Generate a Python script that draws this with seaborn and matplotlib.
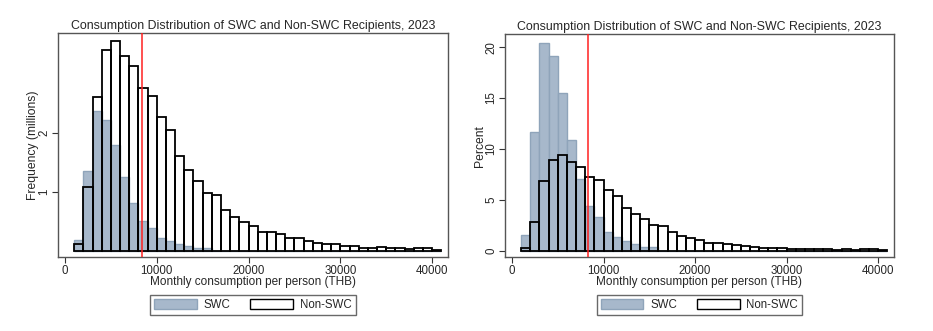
import numpy as np
import pandas as pd
import matplotlib
matplotlib.use("Agg")
import matplotlib.pyplot as plt
from matplotlib.patches import Patch
import seaborn as sns

# ---- data (bins of 1000 THB, starting at 1000) ----
bin_start = list(range(1000, 41000, 1000))

swc_freq_m = [0.18, 1.36, 2.375, 2.22, 1.80, 1.26, 0.81, 0.51, 0.39, 0.215,
              0.16, 0.11, 0.075, 0.045, 0.04]
non_freq_m = [0.12, 1.085, 2.62, 3.41, 3.57, 3.32, 3.14, 2.77, 2.64, 2.28,
              2.05, 1.61, 1.375, 1.19, 0.99, 0.955, 0.70, 0.57, 0.49, 0.415,
              0.32, 0.32, 0.28, 0.215, 0.21, 0.17, 0.13, 0.11, 0.11, 0.085,
              0.083, 0.055, 0.055, 0.057, 0.04, 0.05, 0.035, 0.047, 0.047, 0.018]

swc_pct = [1.54, 11.7, 20.45, 19.15, 15.5, 10.83, 7.0, 4.35, 3.34, 1.8,
           1.34, 0.95, 0.62, 0.36, 0.33]
non_pct = [0.30, 2.8, 6.84, 8.9, 9.36, 8.7, 8.18, 7.27, 6.9, 6.0,
           5.34, 4.19, 3.57, 3.08, 2.55, 2.45, 1.8, 1.47, 1.24, 1.08,
           0.79, 0.79, 0.69, 0.52, 0.49, 0.39, 0.26, 0.23, 0.23, 0.2,
           0.2, 0.15, 0.15, 0.15, 0.1, 0.13, 0.09, 0.12, 0.12, 0.05]

poverty_line = 8350
title = "Consumption Distribution of SWC and Non-SWC Recipients, 2023"
xlabel = "Monthly consumption per person (THB)"
xticks = [0, 10000, 20000, 30000, 40000]
left_yticks = [1, 2]
right_yticks = [0, 5, 10, 15, 20]

edges = list(range(1000, 42000, 1000))

sns.set_theme(style="white")
plt.rcParams["font.family"] = ["Liberation Sans", "DejaVu Sans"]

W, H = 933, 331
fig = plt.figure(figsize=(W / 100, H / 100), dpi=100)

def ax_rect(l, r, t, b):
    return [l / W, (H - b) / H, (r - l) / W, (b - t) / H]

ax1 = fig.add_axes(ax_rect(58.3, 447.7, 33.3, 257.3))
ax2 = fig.add_axes(ax_rect(505.3, 893.7, 34.3, 257.3))

swc_fill = "#a7b8cb"
swc_edge = "#8fa4ba"

def draw(ax, swc, non, ylabel, yticks, ylim):
    n_s = len(swc)
    df_s = pd.DataFrame({"x": [b + 500 for b in bin_start[:n_s]], "w": swc})
    df_n = pd.DataFrame({"x": [b + 500 for b in bin_start], "w": non})
    sns.histplot(data=df_s, x="x", weights="w", bins=edges, ax=ax,
                 color=swc_fill, edgecolor=swc_edge, linewidth=1.0,
                 alpha=1.0, zorder=1)
    sns.histplot(data=df_n, x="x", weights="w", bins=edges, ax=ax,
                 fill=False, color="black", linewidth=1.3, zorder=3)
    ax.axvline(poverty_line, color="#ff2020", linewidth=1.1, zorder=4)
    ax.set_xlim(-730, 41700)
    ax.set_ylim(*ylim)
    ax.set_xticks(xticks)
    ax.set_xticklabels([str(t) for t in xticks], fontsize=8.3)
    ax.set_yticks(yticks)
    ax.set_yticklabels([str(t) for t in yticks], fontsize=8.3,
                       rotation=90, va="center")
    ax.tick_params(axis="both", direction="out", length=4, width=0.8,
                   color="#333333", pad=1.5, bottom=True, left=True)
    ax.set_xlabel(xlabel, fontsize=8.5, labelpad=-1)
    ax.set_ylabel(ylabel, fontsize=8.7, labelpad=-0.5)
    ax.set_title(title, fontsize=8.9, pad=3)
    for s in ax.spines.values():
        s.set_color("#555555")
        s.set_linewidth(1.0)
    ax.grid(False)
    handles = [Patch(facecolor=swc_fill, edgecolor=swc_edge, label="SWC"),
               Patch(facecolor="white", edgecolor="black", linewidth=1.0,
                     label="Non-SWC")]
    leg = ax.legend(handles=handles, loc="center", bbox_to_anchor=(0.5, -0.213),
                    ncol=2, frameon=True, fancybox=False, fontsize=8.3,
                    handlelength=3.7, handleheight=0.9, columnspacing=1.7,
                    borderpad=0.35, handletextpad=0.6)
    leg.get_frame().set_edgecolor("#444444")
    leg.get_frame().set_linewidth(1.0)

draw(ax1, swc_freq_m, non_freq_m, "Frequency (millions)", left_yticks, (-0.11, 3.70))
draw(ax2, swc_pct, non_pct, "Percent", right_yticks, (-0.65, 21.26))

fig.savefig("out.png", dpi=100)
